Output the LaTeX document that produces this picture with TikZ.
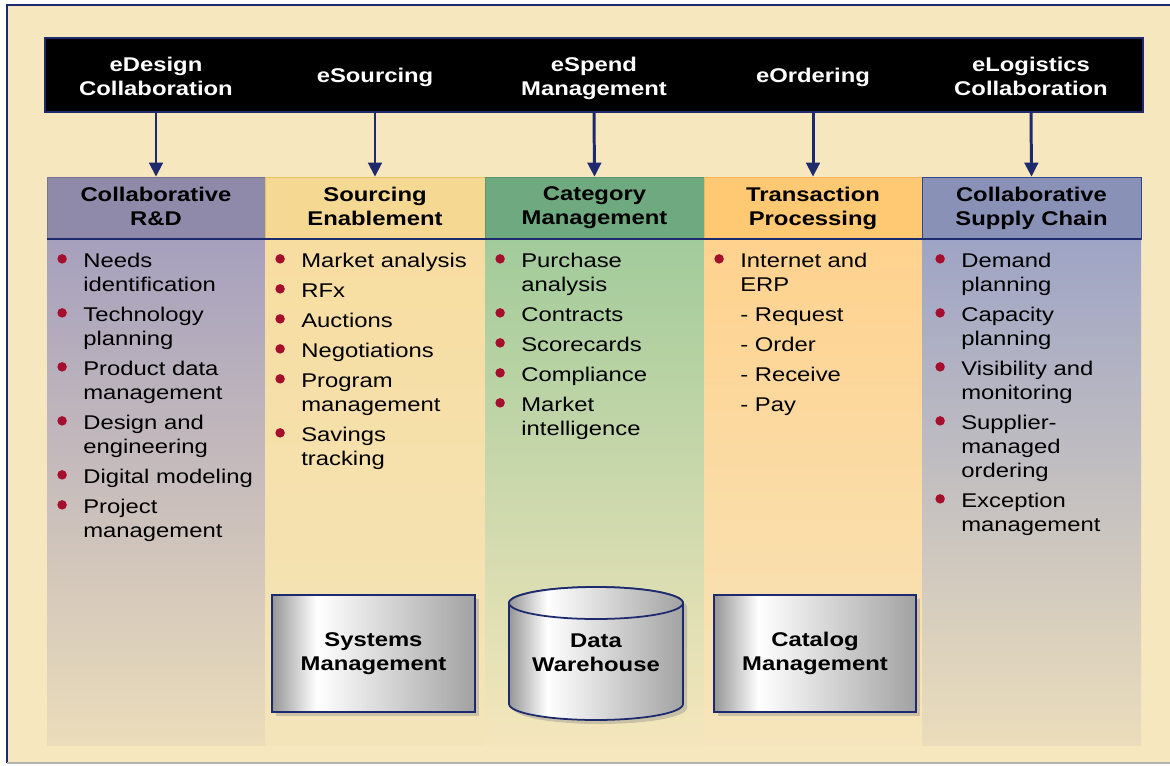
\documentclass[tikz,border=0pt]{standalone}
\usepackage{fontspec}
\setmainfont{Liberation Sans}[FakeStretch=1.2]
\usepackage{tikz}
\usetikzlibrary{arrows.meta,shadows}
\usepackage{xcolor}
\definecolor{paper}{HTML}{F7E7BE}
\definecolor{navy}{HTML}{1E2A6E}
\definecolor{bulletred}{HTML}{A50F2D}
\definecolor{metalL}{HTML}{969696}
\definecolor{metalR}{HTML}{A2A2A2}
% column colours: header, header line, body top, body bottom
\definecolor{rndhead}{HTML}{8F89AA}
\definecolor{rndline}{HTML}{7A7399}
\definecolor{rndtop}{HTML}{A6A0BD}
\definecolor{rndbot}{HTML}{EBDCBA}
\definecolor{srchead}{HTML}{F5D993}
\definecolor{srcline}{HTML}{E2C265}
\definecolor{srctop}{HTML}{F7DDA0}
\definecolor{srcbot}{HTML}{F4E4BA}
\definecolor{cathead}{HTML}{6FA980}
\definecolor{catline}{HTML}{5B9670}
\definecolor{cattop}{HTML}{A2CB9B}
\definecolor{catmid}{HTML}{D6DEAE}
\definecolor{catbot}{HTML}{F5E6BC}
\definecolor{trahead}{HTML}{FFC873}
\definecolor{traline}{HTML}{F2B55A}
\definecolor{tratop}{HTML}{FFD28E}
\definecolor{tramid}{HTML}{F9DEA9}
\definecolor{trabot}{HTML}{F6E5BC}
\definecolor{suphead}{HTML}{8A91B7}
\definecolor{supline}{HTML}{34448C}
\definecolor{suptop}{HTML}{9EA4C5}
\definecolor{supbot}{HTML}{EBDDBB}

\pgfdeclarehorizontalshading{metal}{100bp}{color(0bp)=(metalL); color(25bp)=(metalL);
  color(36bp)=(white); color(75bp)=(metalR); color(100bp)=(metalR)}

\newcommand{\txt}{\fontsize{11.3pt}{13.66pt}\selectfont}
\newlength{\bulletgap}
\setlength{\bulletgap}{0.52cm}
\newcommand{\bitem}[1]{\par\noindent\hangindent=\bulletgap\hangafter=1%
  \makebox[\bulletgap][l]{\tikz[baseline=-0.17cm]\fill[bulletred] (0,0) circle [radius=0.095cm];}#1}
\newcommand{\dashitem}[1]{\par\noindent\hspace*{\bulletgap}- #1}

\begin{document}
\begin{tikzpicture}[x=0.02cm, y=-0.02cm,
        head/.style={rectangle, minimum width=4.36cm, minimum height=1.24cm, inner sep=0pt, align=center, font=\txt\bfseries},
        barlabel/.style={text=white, align=center, font=\txt\bfseries},
        flow/.style={-{Triangle[length=0.28cm, width=0.27cm]}, line width=1.7pt, navy},
        list/.style={anchor=north west, inner sep=0pt, text width=4.3cm, align=left, font=\txt,
            execute at begin node={\setlength{\parskip}{0.12cm}}},
        metalbox/.style={rectangle, draw=navy, line width=1pt, shading=metal, minimum height=2.34cm,
            align=center, font=\txt\bfseries, drop shadow={shadow xshift=0.08cm, shadow yshift=-0.08cm, opacity=0.35}}]

        \useasboundingbox (0,0) rectangle (1170,765);

        % Frame
        \fill[white] (0,0) rectangle (1170,765);
        \fill[paper] (7,5) rectangle (1175,763);
        \draw[navy, line width=1pt] (1175,5) -- (7,5) -- (7,763);
        \draw[gray!60, line width=1pt] (7,763) -- (1175,763);

        % Column bodies
        \shade[top color=rndtop, bottom color=rndbot] (47,240) rectangle (265,745);
        \shade[top color=srctop, bottom color=srcbot] (265,240) rectangle (485,745);
        \shade[top color=cattop, middle color=catmid, bottom color=catbot] (485,240) rectangle (704,745);
        \shade[top color=tratop, middle color=tramid, bottom color=trabot] (704,240) rectangle (922,745);
        \shade[top color=suptop, bottom color=supbot] (922,240) rectangle (1141,745);

        % e-business bar
        \node[fill=black, draw=navy, line width=1pt, minimum width=21.96cm, minimum height=1.48cm] (bar) at (594,75) {};
        \node[barlabel] (edesign) at (156,76) {eDesign\\Collaboration};
        \node[barlabel] (esourcing) at (375,77) {eSourcing};
        \node[barlabel] (espend) at (594,78) {eSpend\\Management};
        \node[barlabel] (eordering) at (813,77) {eOrdering};
        \node[barlabel] (elogistics) at (1031,76) {eLogistics\\Collaboration};

        % Column headers
        \node[head, fill=rndhead, draw=rndline] (rnd) at (156,208) {Collaborative\\R\&D\vphantom{g}};
        \node[head, fill=srchead, draw=srcline, minimum width=4.4cm] (sourcing) at (375,208) {Sourcing\\Enablement\vphantom{g}};
        \node[head, fill=cathead, draw=catline, minimum width=4.38cm] (category) at (594.5,208) {Category\\Management};
        \node[head, fill=trahead, draw=traline] (transaction) at (813,208) {Transaction\\Processing};
        \node[head, fill=suphead, draw=supline, minimum width=4.38cm] (supply) at (1031.5,208) {Collaborative\\Supply Chain};
        \draw[navy, line width=1.2pt] (rnd.south west) -- (supply.south east);

        % Arrows
        \draw[flow] (edesign |- bar.south) -- (rnd.north);
        \draw[flow] (esourcing |- bar.south) -- (sourcing.north);
        \draw[flow] (espend |- bar.south) -- (category.north);
        \draw[flow] (eordering |- bar.south) -- (transaction.north);
        \draw[flow] (elogistics |- bar.south) -- (supply.north);

        % Column lists
        \node[list] (rndlist) at (57,237) {
            \bitem{Needs\newline identification}
            \bitem{Technology\newline planning}
            \bitem{Product data\newline management}
            \bitem{Design and\newline engineering}
            \bitem{Digital modeling}
            \bitem{Project\newline management}\par};
        \node[list] (sourcinglist) at (275,237) {
            \bitem{Market analysis}
            \bitem{RFx}
            \bitem{Auctions}
            \bitem{Negotiations}
            \bitem{Program\newline management}
            \bitem{Savings\newline tracking}\par};
        \node[list] (categorylist) at (495,237) {
            \bitem{Purchase\newline analysis}
            \bitem{Contracts}
            \bitem{Scorecards}
            \bitem{Compliance}
            \bitem{Market\newline intelligence}\par};
        \node[list] (transactionlist) at (714,237) {
            \bitem{Internet and\newline ERP}
            \dashitem{Request}
            \dashitem{Order}
            \dashitem{Receive}
            \dashitem{Pay}\par};
        \node[list] (supplylist) at (935,237) {
            \bitem{Demand\newline planning}
            \bitem{Capacity\newline planning}
            \bitem{Visibility and\newline monitoring}
            \bitem{Supplier-\newline managed\newline ordering}
            \bitem{Exception\newline management}\par};

        % Shared services
        \node[metalbox, minimum width=4.06cm] (sysmgmt) at (373.5,653.5) {Systems\\Management};
        \node[metalbox, minimum width=4.04cm] (catalog) at (815,653.5) {Catalog\\Management};

        \path[shading=metal, draw=navy, line width=1pt, drop shadow={shadow xshift=0.08cm, shadow yshift=-0.08cm, opacity=0.35}]
            (509,603) -- (509,704) arc[start angle=180, end angle=0, x radius=87, y radius=16]
            -- (683,603) arc[start angle=0, end angle=-180, x radius=87, y radius=16] -- cycle;
        \path[shading=metal, draw=navy, line width=1pt] (596,603) ellipse [x radius=87, y radius=16];
        \node[align=center, font=\txt\bfseries] (warehouse) at (596,653) {Data\\Warehouse};

    \end{tikzpicture}
\end{document}
